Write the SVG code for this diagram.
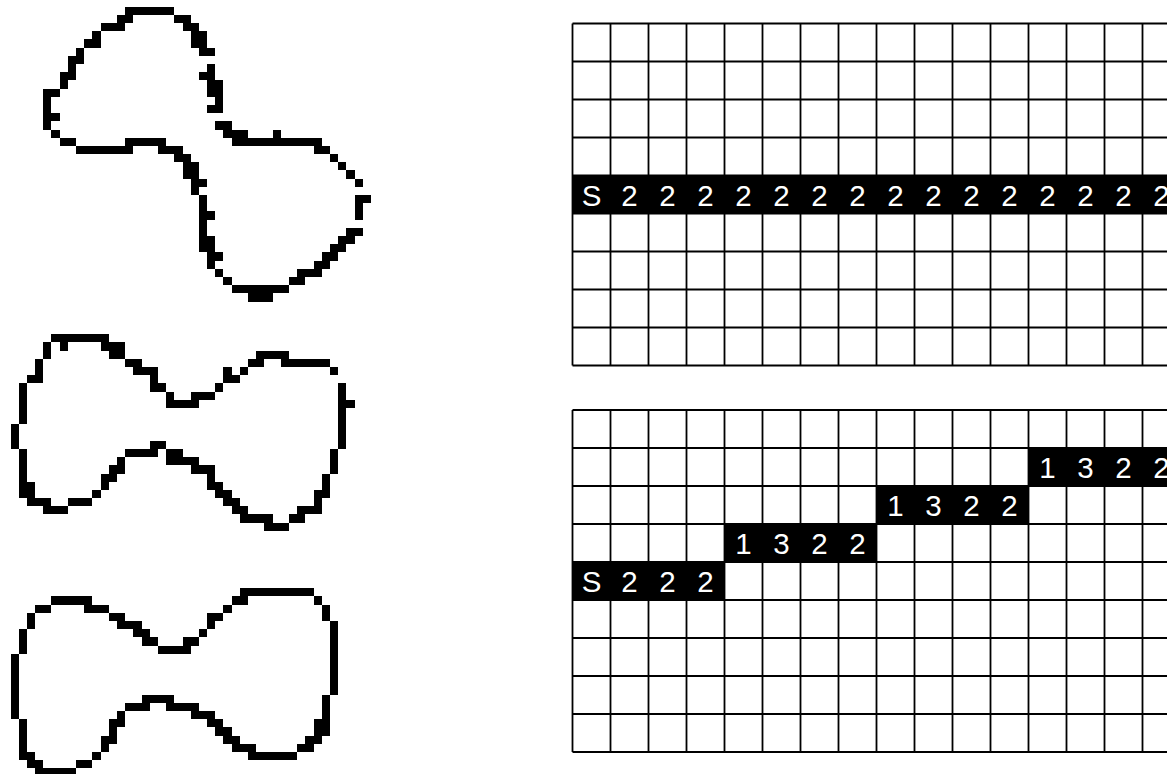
<svg xmlns="http://www.w3.org/2000/svg" width="1167" height="774" viewBox="0 0 1167 774">
<style>
.px{fill:#000;shape-rendering:crispEdges}
.grid{fill:none;stroke:#000;stroke-width:1.8}
.cellblk{fill:#000}
.lbl{font-family:"Liberation Sans",Arial,sans-serif;font-size:29.5px;fill:#fff;text-anchor:middle}
</style>
<rect x="0" y="0" width="1167" height="774" fill="#fff"/>
<g transform="translate(10.54 6.7) scale(8.19)">
<g id="shape-1">
<path class="px" d="M14 0h6v1h-6z M13 1h2v1h-2z M20 1h2v1h-2z M11 2h3v1h-3z M21 2h2v1h-2z M10 3h1v1h-1z M22 3h2v1h-2z M9 4h2v1h-2z M22 4h2v1h-2z M8 5h1v1h-1z M23 5h2v1h-2z M7 6h2v1h-2z M7 7h1v1h-1z M24 7h1v1h-1z M6 8h2v1h-2z M23 8h2v1h-2z M6 9h1v1h-1z M24 9h2v1h-2z M4 10h2v1h-2z M24 10h2v1h-2z M4 11h1v1h-1z M25 11h1v1h-1z M4 12h1v1h-1z M24 12h2v1h-2z M4 13h2v1h-2z M4 14h1v1h-1z M25 14h2v1h-2z M5 15h1v1h-1z M26 15h3v1h-3z M32 15h1v1h-1z M6 16h2v1h-2z M14 16h5v1h-5z M27 16h11v1h-11z M8 17h7v1h-7z M18 17h3v1h-3z M37 17h2v1h-2z M20 18h2v1h-2z M39 18h1v1h-1z M21 19h2v1h-2z M40 19h1v1h-1z M21 20h2v1h-2z M41 20h1v1h-1z M22 21h2v1h-2z M42 21h1v1h-1z M22 22h1v1h-1z M23 23h1v1h-1z M42 23h2v1h-2z M23 24h1v1h-1z M42 24h1v1h-1z M23 25h2v1h-2z M42 25h1v1h-1z M23 26h1v1h-1z M23 27h1v1h-1z M41 27h2v1h-2z M23 28h2v1h-2z M40 28h2v1h-2z M23 29h2v1h-2z M39 29h2v1h-2z M24 30h2v1h-2z M38 30h2v1h-2z M24 31h1v1h-1z M37 31h2v1h-2z M25 32h1v1h-1z M35 32h3v1h-3z M26 33h1v1h-1z M34 33h2v1h-2z M27 34h7v1h-7z M29 35h3v1h-3z"/>
</g>
<g id="shape-2">
<path class="px" d="M5 40h7v1h-7z M4 41h1v1h-1z M6 41h1v1h-1z M11 41h3v1h-3z M4 42h1v1h-1z M12 42h2v1h-2z M30 42h4v1h-4z M3 43h1v1h-1z M14 43h2v1h-2z M29 43h2v1h-2z M33 43h6v1h-6z M3 44h1v1h-1z M15 44h3v1h-3z M26 44h1v1h-1z M28 44h1v1h-1z M39 44h1v1h-1z M2 45h2v1h-2z M17 45h1v1h-1z M26 45h2v1h-2z M1 46h1v5h-1z M17 46h2v1h-2z M25 46h1v1h-1z M40 46h1v8h-1z M19 47h1v1h-1z M22 47h3v1h-3z M19 48h4v1h-4z M41 48h1v1h-1z M0 51h1v3h-1z M17 53h2v1h-2z M1 54h1v6h-1z M14 54h4v1h-4z M19 54h2v1h-2z M39 54h1v3h-1z M13 55h1v1h-1z M19 55h4v1h-4z M12 56h2v1h-2z M22 56h3v1h-3z M11 57h2v1h-2z M24 57h1v1h-1z M38 57h1v3h-1z M2 58h1v2h-1z M11 58h1v1h-1z M24 58h2v1h-2z M10 59h1v1h-1z M25 59h2v1h-2z M37 59h1v3h-1z M2 60h3v1h-3z M7 60h3v1h-3z M26 60h2v1h-2z M4 61h3v1h-3z M27 61h2v1h-2z M35 61h2v1h-2z M28 62h4v1h-4z M34 62h2v1h-2z M31 63h3v1h-3z"/>
</g>
<g id="shape-3">
<path class="px" d="M28 71h9v1h-9z M5 72h5v1h-5z M27 72h2v1h-2z M37 72h1v1h-1z M3 73h2v1h-2z M9 73h3v1h-3z M26 73h1v1h-1z M38 73h1v2h-1z M2 74h1v2h-1z M12 74h2v1h-2z M24 74h2v1h-2z M13 75h3v1h-3z M24 75h1v1h-1z M39 75h1v9h-1z M1 76h1v3h-1z M15 76h2v1h-2z M23 76h1v1h-1z M16 77h2v1h-2z M21 77h2v1h-2z M18 78h4v1h-4z M0 79h1v8h-1z M16 84h4v1h-4z M38 84h1v5h-1z M14 85h3v1h-3z M19 85h4v1h-4z M13 86h1v1h-1z M22 86h3v1h-3z M1 87h1v5h-1z M12 87h2v1h-2z M24 87h2v1h-2z M37 87h1v3h-1z M12 88h1v1h-1z M25 88h2v1h-2z M11 89h2v1h-2z M26 89h2v1h-2z M36 89h1v2h-1z M11 90h1v1h-1z M27 90h3v1h-3z M35 90h1v1h-1z M2 91h1v2h-1z M10 91h1v1h-1z M29 91h6v1h-6z M3 92h1v1h-1z M8 92h2v1h-2z M3 93h5v1h-5z"/>
</g>
</g>
<g id="grid-top">
<path class="grid" d="M572.5 23.5H1180.5M572.5 61.5H1180.5M572.5 99.5H1180.5M572.5 137.5H1180.5M572.5 175.5H1180.5M572.5 213.5H1180.5M572.5 251.5H1180.5M572.5 289.5H1180.5M572.5 327.5H1180.5M572.5 365.5H1180.5 M572.5 23.5V365.5M610.5 23.5V365.5M648.5 23.5V365.5M686.5 23.5V365.5M724.5 23.5V365.5M762.5 23.5V365.5M800.5 23.5V365.5M838.5 23.5V365.5M876.5 23.5V365.5M914.5 23.5V365.5M952.5 23.5V365.5M990.5 23.5V365.5M1028.5 23.5V365.5M1066.5 23.5V365.5M1104.5 23.5V365.5M1142.5 23.5V365.5M1180.5 23.5V365.5"/>
<rect class="cellblk" x="572" y="175.5" width="609" height="38"/>
<g class="lbl">
<text x="591.5" y="205.5">S</text><text x="629.5" y="205.5">2</text><text x="667.5" y="205.5">2</text><text x="705.5" y="205.5">2</text><text x="743.5" y="205.5">2</text><text x="781.5" y="205.5">2</text><text x="819.5" y="205.5">2</text><text x="857.5" y="205.5">2</text><text x="895.5" y="205.5">2</text><text x="933.5" y="205.5">2</text><text x="971.5" y="205.5">2</text><text x="1009.5" y="205.5">2</text><text x="1047.5" y="205.5">2</text><text x="1085.5" y="205.5">2</text><text x="1123.5" y="205.5">2</text><text x="1161.5" y="205.5">2</text>
</g>
</g>
<g id="grid-bottom">
<path class="grid" d="M572.5 410H1180.5M572.5 448H1180.5M572.5 486H1180.5M572.5 524H1180.5M572.5 562H1180.5M572.5 600H1180.5M572.5 638H1180.5M572.5 676H1180.5M572.5 714H1180.5M572.5 752H1180.5 M572.5 410V752M610.5 410V752M648.5 410V752M686.5 410V752M724.5 410V752M762.5 410V752M800.5 410V752M838.5 410V752M876.5 410V752M914.5 410V752M952.5 410V752M990.5 410V752M1028.5 410V752M1066.5 410V752M1104.5 410V752M1142.5 410V752M1180.5 410V752"/>
<rect class="cellblk" x="572" y="562" width="153" height="38"/>
<rect class="cellblk" x="724" y="524" width="153" height="38"/>
<rect class="cellblk" x="876" y="486" width="153" height="38"/>
<rect class="cellblk" x="1028" y="448" width="153" height="38"/>
<g class="lbl">
<text x="591.5" y="592">S</text><text x="629.5" y="592">2</text><text x="667.5" y="592">2</text><text x="705.5" y="592">2</text>
<text x="743.5" y="554">1</text><text x="781.5" y="554">3</text><text x="819.5" y="554">2</text><text x="857.5" y="554">2</text>
<text x="895.5" y="516">1</text><text x="933.5" y="516">3</text><text x="971.5" y="516">2</text><text x="1009.5" y="516">2</text>
<text x="1047.5" y="478">1</text><text x="1085.5" y="478">3</text><text x="1123.5" y="478">2</text><text x="1161.5" y="478">2</text>
</g>
</g>
</svg>
